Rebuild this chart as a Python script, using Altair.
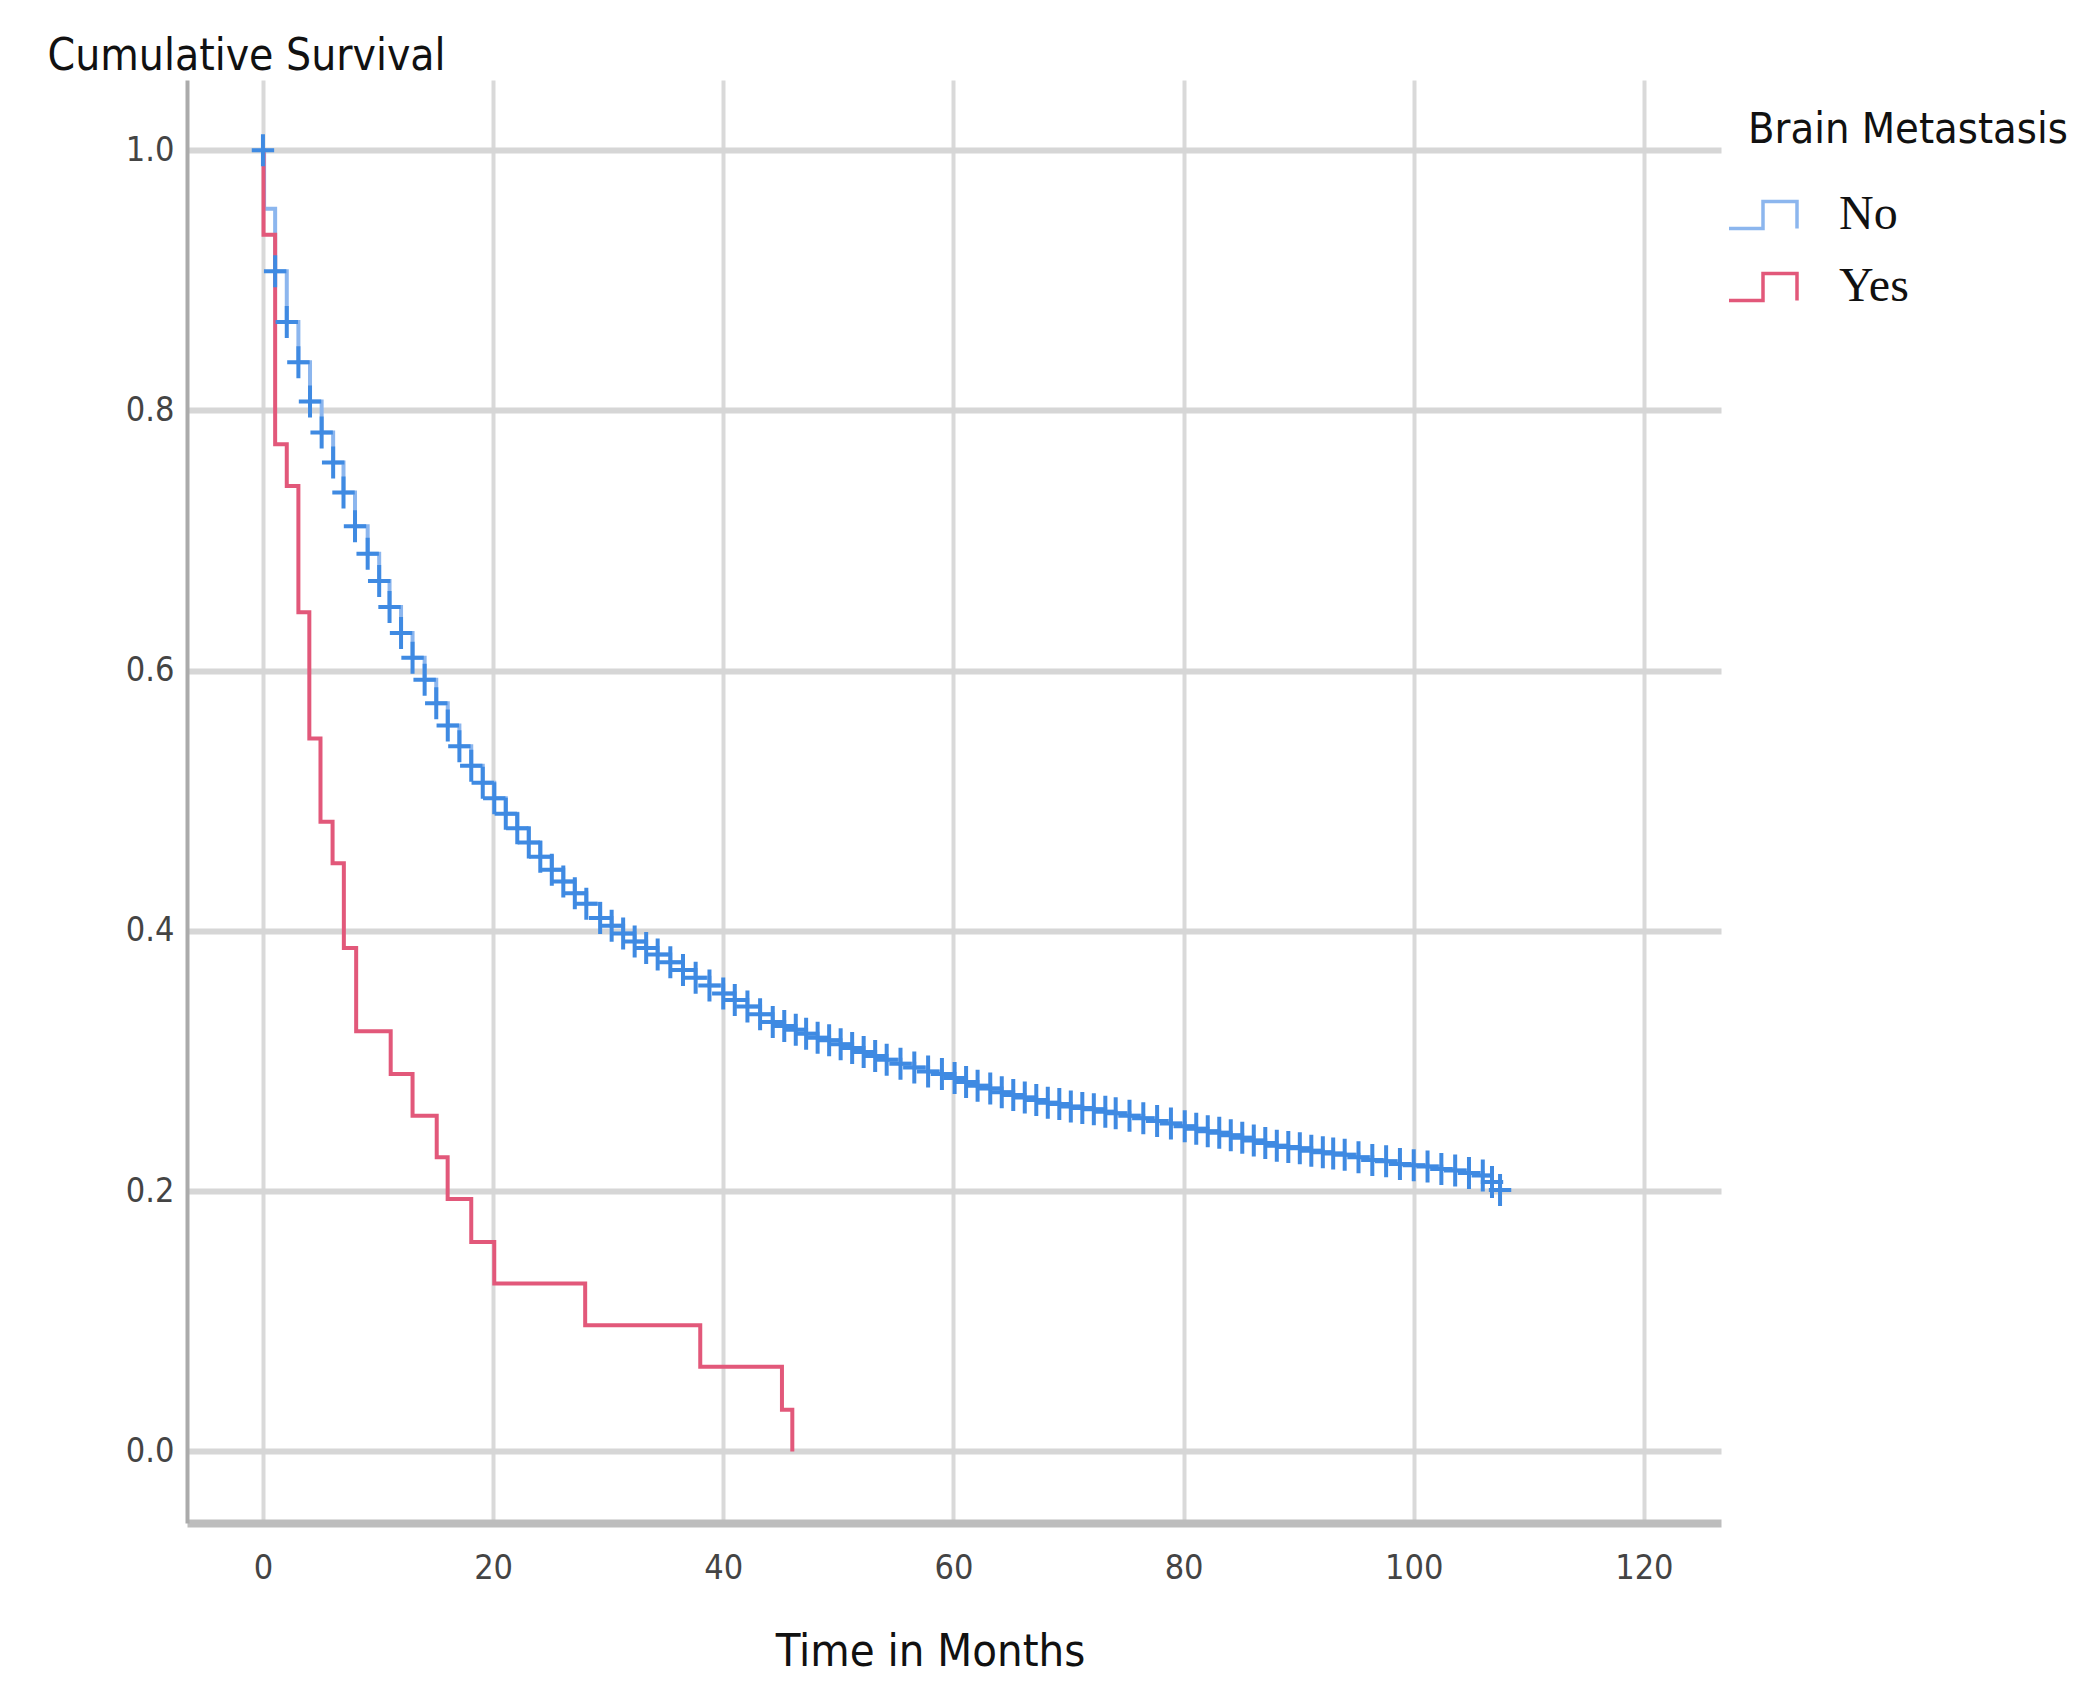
import altair as alt
import pandas as pd

# ---- data ----
groups = ["No", "Yes"]
colors = ["#8cb6ee", "#e2587a"]
cross_color = "#3f8ae2"

no_time = [0, 0.1, 1.06, 2.07, 3.08, 4.09, 5.1, 6.1, 7.0, 8.0, 9.1, 10.1, 11.0, 12.0, 13.0,
           14.05, 15.06, 16.06, 17.07, 18.1, 19.1, 20.1, 21.1, 22.1, 23.1, 24.1, 25.1, 26.1,
           27.1, 28.1, 29.3, 30.3, 31.3, 32.3, 33.3, 34.3, 35.4, 36.5, 37.6, 38.8, 40.0, 41.0,
           42.1, 43.2, 44.3, 45.3, 46.3, 47.2, 48.2, 49.2, 50.2, 51.2, 52.2, 53.2, 54.2, 55.4,
           56.6, 57.8, 59.0, 60.1, 61.1, 62.1, 63.2, 64.2, 65.2, 66.2, 67.2, 68.2, 69.2, 70.2,
           71.2, 72.2, 73.2, 74.1, 75.3, 76.5, 77.7, 78.9, 80.1, 81.1, 82.1, 83.1, 84.1, 85.1,
           86.1, 87.1, 88.1, 89.1, 90.1, 91.1, 92.1, 93.0, 94.0, 95.2, 96.4, 97.6, 98.8, 100.0,
           101.2, 102.4, 103.6, 104.8, 106.0, 106.8, 107.5]
no_surv = [1.000, 0.955, 0.907, 0.868, 0.837, 0.807, 0.783, 0.760, 0.737, 0.711, 0.690, 0.669,
           0.649, 0.629, 0.610, 0.593, 0.575, 0.558, 0.542, 0.527, 0.514, 0.502, 0.490, 0.479,
           0.468, 0.457, 0.447, 0.438, 0.429, 0.421, 0.410, 0.404, 0.398, 0.392, 0.387, 0.382,
           0.376, 0.370, 0.364, 0.358, 0.352, 0.347, 0.342, 0.336, 0.330, 0.327, 0.324, 0.321,
           0.318, 0.316, 0.313, 0.310, 0.307, 0.304, 0.301, 0.298, 0.295, 0.292, 0.290, 0.287,
           0.284, 0.281, 0.279, 0.276, 0.274, 0.272, 0.270, 0.268, 0.267, 0.265, 0.264, 0.263,
           0.261, 0.260, 0.258, 0.256, 0.254, 0.252, 0.250, 0.248, 0.246, 0.245, 0.243, 0.241,
           0.239, 0.237, 0.235, 0.234, 0.233, 0.231, 0.230, 0.229, 0.228, 0.226, 0.224, 0.223,
           0.221, 0.220, 0.219, 0.217, 0.216, 0.214, 0.212, 0.207, 0.201]

yes_time = [0, 0.05, 1.06, 2.07, 3.08, 4.03, 5.0, 6.05, 7.03, 8.1, 11.1, 13.0, 15.1, 16.05,
            18.1, 20.1, 28.0, 38.0, 45.1, 46.0]
yes_surv = [1.0, 0.935, 0.774, 0.742, 0.645, 0.548, 0.484, 0.452, 0.387, 0.323, 0.290, 0.258,
            0.226, 0.194, 0.161, 0.129, 0.097, 0.065, 0.032, 0.0]

x_ticks = [0, 20, 40, 60, 80, 100, 120]
y_ticks = [0.0, 0.2, 0.4, 0.6, 0.8, 1.0]

NARROW = "Liberation Sans Narrow, 'DejaVu Sans Condensed', 'Arial Narrow', sans-serif"

lines_df = pd.concat([
    pd.DataFrame({"t": no_time, "s": no_surv, "g": "No"}),
    pd.DataFrame({"t": yes_time, "s": yes_surv, "g": "Yes"}),
], ignore_index=True)
cens_df = pd.DataFrame({"t": no_time, "s": no_surv})
cens_df = cens_df[cens_df["t"] != 0.1]

x_enc = alt.X(
    "t:Q",
    scale=alt.Scale(domain=[-6.6, 126.7], nice=False, zero=False),
    axis=alt.Axis(
        values=x_ticks, title="Time in Months", grid=True, gridColor="#d9d9d9", gridWidth=4,
        domainColor="#bdbdbd", domainWidth=8, ticks=False,
        labelFont=NARROW, labelFontSize=34, labelColor="#444444", labelPadding=28,
        titleFont=NARROW, titleFontSize=45, titleFontWeight="normal", titleColor="#111111",
        titleX=743, titleY=128, titleBaseline="middle",
    ),
)
y_enc = alt.Y(
    "s:Q",
    scale=alt.Scale(domain=[-0.055, 1.054], nice=False, zero=False),
    axis=alt.Axis(
        values=y_ticks, format=".1f", title="Cumulative Survival", grid=True,
        gridColor="#d6d6d6", gridWidth=6, domainColor="#ababab", domainWidth=4, ticks=False,
        labelFont=NARROW, labelFontSize=34, labelColor="#444444", labelPadding=13,
        titleFont=NARROW, titleFontSize=44, titleFontWeight="normal", titleColor="#111111",
        titleAngle=0, titleAlign="left", titleX=-140, titleY=-24, titleBaseline="middle",
    ),
)

lines = alt.Chart(lines_df).mark_line(interpolate="step-after", strokeWidth=4).encode(
    x=x_enc,
    y=y_enc,
    color=alt.Color(
        "g:N",
        scale=alt.Scale(domain=groups, range=colors),
        legend=alt.Legend(
            title="Brain Metastasis", orient="none", legendX=1561, legendY=29,
            titleFont=NARROW, titleFontSize=43, titleFontWeight="normal", titleColor="#111111",
            titlePadding=27, titleLimit=1000,
            symbolType="M-1,0.4H0V-0.4H1V0.4", symbolSize=4624, symbolStrokeWidth=3.5,
            symbolOffset=-21,
            labelFont="Liberation Serif", labelFontSize=48, labelColor="#111111",
            labelOffset=40, rowPadding=12,
        ),
    ),
    detail="g:N",
)

crosses = alt.Chart(cens_df).mark_point(
    shape="M-0.7,0H0.7M0,-1V1", size=1024, filled=False, strokeWidth=4,
    color=cross_color, opacity=1,
).encode(x=alt.X("t:Q"), y=alt.Y("s:Q"))

chart = alt.layer(lines, crosses).properties(
    width=1534, height=1443,
    autosize=alt.AutoSizeParams(type="none"),
    padding={"left": 179, "top": 72, "right": 352, "bottom": 156},
    background="white",
).configure_view(stroke=None)

chart.save("out.html", embed_options={"renderer": "svg", "actions": False})
